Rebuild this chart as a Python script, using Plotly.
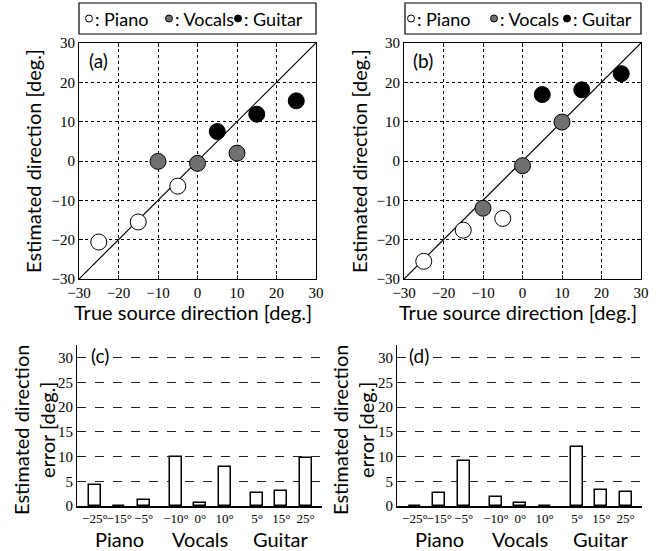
import plotly.graph_objects as go

# ---------------- data ----------------
true_piano = [-25, -15, -5]
true_vocals = [-10, 0, 10]
true_guitar = [5, 15, 25]

est_a_piano = [-20.6, -15.5, -6.4]
est_a_vocals = [-0.1, -0.6, 2.0]
est_a_guitar = [7.5, 11.9, 15.3]

est_b_piano = [-25.5, -17.6, -14.6]
est_b_vocals = [-12.0, -1.2, 9.9]
est_b_guitar = [16.9, 18.1, 22.2]

groups = ["Piano", "Vocals", "Guitar"]
angle_labels = [["−25°", "−15°", "−5°"], ["−10°", "0°", "10°"], ["5°", "15°", "25°"]]
err_c = [4.25, 0.0, 1.2, 10.0, 0.55, 7.9, 2.6, 3.0, 9.7]
err_d = [0.0, 2.6, 9.2, 1.75, 0.55, 0.0, 11.9, 3.2, 2.8]

scatter_ticks = [-30, -20, -10, 0, 10, 20, 30]
bar_ticks = [0, 5, 10, 15, 20, 25, 30]
diag = [-30, 30]

# ---------------- layout helpers ----------------
W, H = 670, 551
def px(x):
    return x / W
def py(y):
    return 1 - y / H

SANS = "Lato"
SERIF = "Liberation Serif"
GRAY = "#707070"

group_gap = 1 / 3
bar_x = []
bar_text = []
group_mid = []
for gi, labs in enumerate(angle_labels):
    xs = [gi * (len(labs) + group_gap) + j for j in range(len(labs))]
    bar_x += xs
    bar_text += labs
    group_mid.append(sum(xs) / len(xs))

def tt(v):
    return [str(t).replace("-", "−") for t in v]

fig = go.Figure()

# scatter panels
for k, (ax, ay, series) in enumerate([
    ("x", "y", (est_a_piano, est_a_vocals, est_a_guitar)),
    ("x2", "y2", (est_b_piano, est_b_vocals, est_b_guitar)),
]):
    fig.add_trace(go.Scatter(x=diag, y=diag, mode="lines", xaxis=ax, yaxis=ay,
                             line=dict(color="black", width=1.2), showlegend=False,
                             hoverinfo="skip"))
    for xs, ys, col in [(true_piano, series[0], "white"),
                        (true_vocals, series[1], GRAY),
                        (true_guitar, series[2], "black")]:
        fig.add_trace(go.Scatter(x=xs, y=ys, mode="markers", xaxis=ax, yaxis=ay,
                                 marker=dict(size=16, color=col,
                                             line=dict(color="black", width=1)),
                                 showlegend=False))

# bar panels
for ax, ay, vals in [("x3", "y3", err_c), ("x4", "y4", err_d)]:
    fig.add_trace(go.Bar(x=bar_x, y=vals, xaxis=ax, yaxis=ay, width=0.5,
                         marker=dict(color="white", line=dict(color="black", width=1.5)),
                         showlegend=False))

sc_axis = dict(range=[-30, 30], tickvals=scatter_ticks, ticktext=tt(scatter_ticks),
               showline=True, mirror="ticks", linecolor="black", linewidth=1.2,
               ticks="inside", ticklen=4, tickcolor="black", automargin=False,
               showgrid=True, gridcolor="black", gridwidth=1, griddash="dot",
               zeroline=False, tickfont=dict(family=SERIF, size=15, color="black"))

bar_y = dict(range=[0, 32.6], tickvals=bar_ticks, ticktext=[str(t) for t in bar_ticks],
             showline=True, linecolor="black", linewidth=1.2, ticks="", automargin=False,
             showgrid=True, gridcolor="#222", gridwidth=1, griddash="dash",
             zeroline=False, tickfont=dict(family=SERIF, size=15, color="black"))
bar_xax = dict(range=[-0.74, 9.34], tickvals=bar_x, ticktext=bar_text,
               showline=True, linecolor="black", linewidth=1.5, ticks="",
               showgrid=False, zeroline=False, tickangle=0, automargin=False,
               tickfont=dict(family=SERIF, size=13, color="black"))

fig.update_layout(
    width=W, height=H, margin=dict(l=0, r=0, t=0, b=0, pad=0, autoexpand=False),
    paper_bgcolor="white", plot_bgcolor="white", bargap=0,
    xaxis=dict(sc_axis, domain=[px(79), px(316)], anchor="y"),
    yaxis=dict(sc_axis, domain=[py(279), py(43)], anchor="x"),
    xaxis2=dict(sc_axis, domain=[px(404), px(641)], anchor="y2"),
    yaxis2=dict(sc_axis, domain=[py(279), py(43)], anchor="x2"),
    xaxis3=dict(bar_xax, domain=[px(77), px(322)], anchor="y3"),
    yaxis3=dict(bar_y, domain=[py(506), py(345)], anchor="x3"),
    xaxis4=dict(bar_xax, domain=[px(397), px(642)], anchor="y4"),
    yaxis4=dict(bar_y, domain=[py(506), py(345)], anchor="x4"),
)

ann = []
shapes = []
TF = dict(family=SANS, size=20, color="black")
PF = dict(family=SANS, size=19, color="black")
C = dict(xanchor="center", yanchor="middle", showarrow=False)

# axis titles of scatter panels
for cx, yx in [(193, 33), (518, 359)]:
    ann.append(dict(C, text="True source direction [deg.]", x=px(cx), y=py(312),
                    xref="paper", yref="paper", font=TF))
    ann.append(dict(C, text="Estimated direction [deg.]", x=px(yx), y=py(161),
                    xref="paper", yref="paper", font=TF, textangle=-90))

# bar panels y titles
for x1, x2 in [(21, 47), (340, 366)]:
    ann.append(dict(C, text="Estimated direction", x=px(x1), y=py(430), xref="paper",
                    yref="paper", font=TF, textangle=-90))
    ann.append(dict(C, text="error [deg.]", x=px(x2), y=py(430), xref="paper",
                    yref="paper", font=TF, textangle=-90))

# group labels
for xa in ["x3", "x4"]:
    for g, m in zip(groups, group_mid):
        ann.append(dict(C, text=g, x=m, y=py(539), xref=xa, yref="paper", font=TF))

# panel labels
for lab, lx, ly in [("(a)", 86, 60), ("(b)", 410, 60), ("(c)", 88, 355), ("(d)", 406, 355)]:
    ann.append(dict(C, text=lab, x=px(lx), y=py(ly), xref="paper", yref="paper",
                    xanchor="left", font=PF, bgcolor="white", borderpad=2))

# legend boxes
LF = dict(family=SANS, size=18, color="black")
for (bx0, bx1, cxs, txs) in [
    (79, 316, (89, 169, 238), (93, 173, 242)),
    (405, 641, (411, 494, 567), (415, 498, 571)),
]:
    shapes.append(dict(type="rect", xref="paper", yref="paper",
                       x0=px(bx0), x1=px(bx1), y0=py(34), y1=py(3),
                       line=dict(color="black", width=1.2), fillcolor="white"))
    for cxp, col in zip(cxs, ["white", GRAY, "black"]):
        shapes.append(dict(type="circle", xref="paper", yref="paper",
                           x0=px(cxp - 3.5), x1=px(cxp + 3.5), y0=py(22), y1=py(15),
                           line=dict(color="black", width=1), fillcolor=col))
    for txp, name in zip(txs, groups):
        ann.append(dict(C, text=": " + name, x=px(txp), y=py(18.5), xref="paper",
                        yref="paper", xanchor="left", font=LF))

fig.update_layout(annotations=ann, shapes=shapes)
fig.write_html("out.html", config={"displayModeBar": False},
               post_script="document.body.style.margin='0';document.body.style.overflow='hidden';")
